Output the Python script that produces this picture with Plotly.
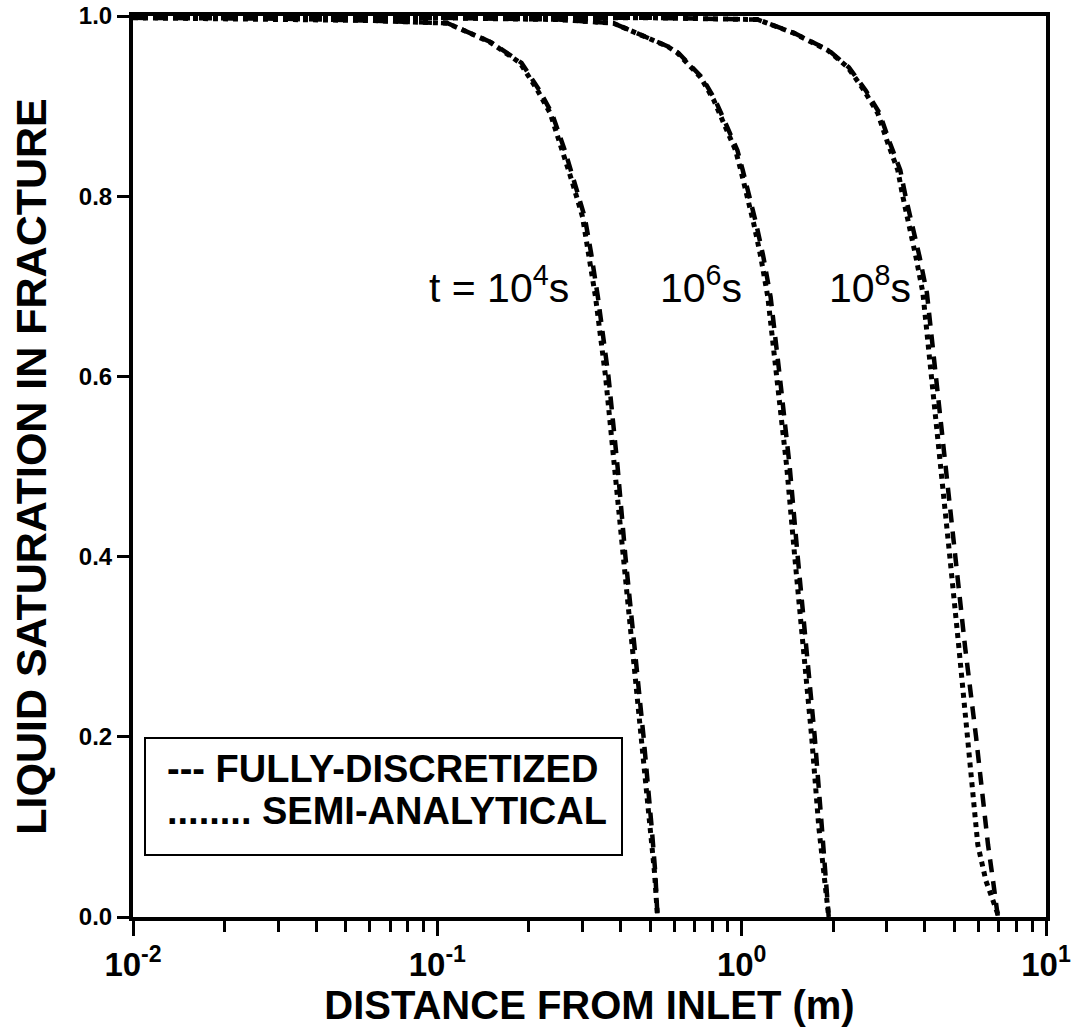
import plotly.graph_objects as go

# ---- data ----
# t = 1e4 s
x1_semi = [0.01, 0.03, 0.06, 0.108, 0.149, 0.187, 0.213, 0.235, 0.260, 0.278, 0.300, 0.314, 0.331, 0.357, 0.382, 0.406, 0.438, 0.469, 0.498, 0.517, 0.529]
x1_full = [0.01, 0.03, 0.06, 0.108, 0.150, 0.189, 0.216, 0.238, 0.264, 0.283, 0.305, 0.320, 0.337, 0.365, 0.391, 0.415, 0.445, 0.476, 0.506, 0.520, 0.529]
y1 = [0.998, 0.997, 0.995, 0.992, 0.971, 0.948, 0.918, 0.892, 0.848, 0.815, 0.777, 0.737, 0.688, 0.60, 0.50, 0.40, 0.30, 0.20, 0.10, 0.05, 0.0]

# t = 1e6 s
x2_semi = [0.01, 0.1, 0.25, 0.379, 0.572, 0.615, 0.733, 0.809, 0.873, 0.955, 0.993, 1.047, 1.095, 1.155, 1.219, 1.303, 1.406, 1.494, 1.600, 1.698, 1.792, 1.862, 1.932]
x2_full = [0.01, 0.1, 0.25, 0.379, 0.575, 0.620, 0.740, 0.818, 0.885, 0.968, 1.008, 1.065, 1.115, 1.178, 1.245, 1.334, 1.438, 1.528, 1.636, 1.738, 1.834, 1.885, 1.932]
y2 = [0.999, 0.998, 0.996, 0.992, 0.966, 0.959, 0.932, 0.907, 0.881, 0.851, 0.829, 0.799, 0.770, 0.733, 0.688, 0.60, 0.50, 0.40, 0.30, 0.20, 0.10, 0.05, 0.0]

# t = 1e8 s
x3_semi = [0.01, 0.1, 0.5, 1.129, 1.483, 1.918, 2.233, 2.518, 2.801, 3.020, 3.258, 3.388, 3.543, 3.735, 3.939, 4.19, 4.52, 4.83, 5.17, 5.50, 5.80, 5.97, 6.35, 7.00]
x3_full = [0.01, 0.1, 0.5, 1.129, 1.490, 1.930, 2.250, 2.550, 2.840, 3.070, 3.320, 3.460, 3.630, 3.840, 4.060, 4.35, 4.69, 5.02, 5.42, 5.89, 6.25, 6.45, 6.70, 6.95]
y3 = [0.999, 0.999, 0.998, 0.996, 0.981, 0.962, 0.943, 0.918, 0.892, 0.859, 0.829, 0.799, 0.770, 0.733, 0.693, 0.60, 0.50, 0.40, 0.30, 0.20, 0.12, 0.08, 0.04, 0.0]

time_labels = ["t = 10<sup>4</sup>s", "10<sup>6</sup>s", "10<sup>8</sup>s"]
x_tickvals = [0.01, 0.1, 1, 10]
x_ticktext = ["10<sup>-2</sup>", "10<sup>-1</sup>", "10<sup>0</sup>", "10<sup>1</sup>"]
x_minor = [m * d for d in (0.01, 0.1, 1) for m in range(2, 10)]
y_tickvals = [0.0, 0.2, 0.4, 0.6, 0.8, 1.0]
y_ticktext = ["0.0", "0.2", "0.4", "0.6", "0.8", "1.0"]

FONT = "Liberation Sans, Arial, Helvetica, sans-serif"

fig = go.Figure()
full_style = dict(color="black", width=4.5, dash="13px,9px")
semi_style = dict(color="black", width=5, dash="5px,5px")
for xs_full, xs_semi, ys in [(x1_full, x1_semi, y1), (x2_full, x2_semi, y2), (x3_full, x3_semi, y3)]:
    fig.add_trace(go.Scatter(x=xs_full, y=ys, mode="lines", line=full_style,
                             name="FULLY-DISCRETIZED", showlegend=False, hoverinfo="skip"))
    fig.add_trace(go.Scatter(x=xs_semi, y=ys, mode="lines", line=semi_style,
                             name="SEMI-ANALYTICAL", showlegend=False, hoverinfo="skip"))

W, H = 1071, 1034
L, R, T, B = 133, 25, 16, 117
pw, ph = W - L - R, H - T - B

def px(xp):
    return (xp - L) / pw

def py(yp):
    return (H - B - yp) / ph

# time labels
for lab, cx in zip(time_labels, [499, 701, 870]):
    fig.add_annotation(x=px(cx), y=py(285), xref="paper", yref="paper", text=lab,
                       showarrow=False, xanchor="center", yanchor="middle",
                       font=dict(family=FONT, size=41, color="black"))

# legend box (text-style legend as in original)
fig.add_shape(type="rect", xref="paper", yref="paper",
              x0=px(145), x1=px(622), y0=py(855), y1=py(738),
              line=dict(color="black", width=2), fillcolor="white", layer="above")
fig.add_annotation(x=px(165), y=py(769), xref="paper", yref="paper",
                   text="--- FULLY-DISCRETIZED", showarrow=False,
                   xanchor="left", yanchor="middle",
                   font=dict(family=FONT, size=38, color="black", weight="bold"))
fig.add_annotation(x=px(165), y=py(811), xref="paper", yref="paper",
                   text="........ SEMI-ANALYTICAL", showarrow=False,
                   xanchor="left", yanchor="middle",
                   font=dict(family=FONT, size=38, color="black", weight="bold"))

fig.update_xaxes(type="log", range=[-2, 1],
                 tickmode="array", tickvals=x_tickvals, ticktext=x_ticktext,
                 ticklabeloverflow="allow",
                 ticks="outside", ticklen=15, tickwidth=2.5, tickcolor="black",
                 minor=dict(tickvals=x_minor, ticks="outside", ticklen=11, tickwidth=2.5, tickcolor="black", showgrid=False),
                 showline=True, linewidth=4, linecolor="black", mirror=True,
                 showgrid=False, zeroline=False,
                 tickfont=dict(family=FONT, size=33, color="black", weight="bold"),
                 title=dict(text="DISTANCE FROM INLET (m)", standoff=6,
                            font=dict(family=FONT, size=40, color="black", weight="bold")))
fig.update_yaxes(range=[0, 1],
                 tickmode="array", tickvals=y_tickvals, ticktext=y_ticktext,
                 ticks="outside", ticklen=12, tickwidth=2.5, tickcolor="black",
                 showline=True, linewidth=4, linecolor="black", mirror=True,
                 showgrid=False, zeroline=False,
                 tickfont=dict(family=FONT, size=24, color="black", weight="bold"),
                 title=dict(text="LIQUID SATURATION IN FRACTURE", standoff=20,
                            font=dict(family=FONT, size=43, color="black", weight="bold")))

fig.update_layout(width=W, height=H, margin=dict(l=L, r=R, t=T, b=B, autoexpand=False),
                  paper_bgcolor="white", plot_bgcolor="white", showlegend=False)

fig.write_html("out.html", config={"displayModeBar": False},
               post_script="document.body.style.margin='0';document.body.style.overflow='hidden';")
